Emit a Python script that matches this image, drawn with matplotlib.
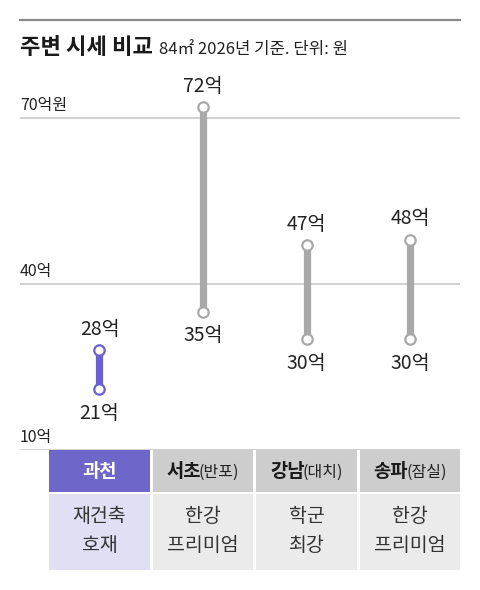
import matplotlib
matplotlib.use("Agg")
import matplotlib.pyplot as plt

plt.rcParams['font.family'] = ['Noto Sans CJK KR', 'DejaVu Sans']

# data
regions = ['과천', '서초', '강남', '송파']
sub_names = ['', '(반포)', '(대치)', '(잠실)']
low_vals = [21, 35, 30, 30]
high_vals = [28, 72, 47, 48]
notes = ['재건축\n호재', '한강\n프리미엄', '학군\n최강', '한강\n프리미엄']
grid_vals = [10, 40, 70]
grid_labels = ['10억', '40억', '70억원']

W, H = 480, 590
PURPLE = '#6a60cf'
GREY = '#a9a9a9'

def fx(x):
    return x / W

def fy(y):
    return 1 - y / H

fig = plt.figure(figsize=(W / 100, H / 100), dpi=100)

# top rule + title
fig.add_artist(plt.Line2D([fx(20), fx(460)], [fy(20), fy(20)], color='#8a8a8a', lw=1.6))
t = fig.text(fx(20), fy(54), '주변 시세 비교', fontsize=16, fontweight='bold',
             color='#1a1a1a', va='baseline', ha='left')
fig.canvas.draw()
r = fig.canvas.get_renderer()
bb = t.get_window_extent(r)
fig.text(fx(bb.x1 + 6), fy(54), '84㎡ 2026년 기준. 단위: 원', fontsize=12,
         color='#222222', va='baseline', ha='left')

# main chart axes
x0, x1 = 20, 460
y_bot, y_top = 450, 63
ax = fig.add_axes([fx(x0), fy(y_bot), (x1 - x0) / W, (y_bot - y_top) / H])
xs = list(range(len(regions)))
ax.set_xlim(-0.768, 3.483)
ax.set_ylim(10, 80)
ax.axis('off')

for v, lab in zip(grid_vals, grid_labels):
    ax.axhline(v, color='#d3d3d3', lw=1.5, zorder=1)
    ax.annotate(lab, xy=(0, v), xycoords=('axes fraction', 'data'),
                xytext=(0, 4), textcoords='offset pixels',
                ha='left', va='bottom', fontsize=11.5, color='#222222')

for i, (lo, hi) in enumerate(zip(low_vals, high_vals)):
    c = PURPLE if i == 0 else GREY
    ax.plot([xs[i], xs[i]], [lo, hi], color=c, lw=5.2, solid_capstyle='butt', zorder=3)
    ax.plot([xs[i], xs[i]], [lo, hi], ls='none', marker='o', ms=7.5,
            mfc='white', mec=c, mew=1.6, zorder=4)
    ax.annotate(f'{hi}억', xy=(xs[i], hi), xytext=(0, 21), textcoords='offset pixels',
                ha='center', va='center', fontsize=14, color='#222222')
    ax.annotate(f'{lo}억', xy=(xs[i], lo), xytext=(0, -24), textcoords='offset pixels',
                ha='center', va='center', fontsize=14, color='#222222')

# table below
tab = fig.add_axes([fx(x0), fy(570), (x1 - x0) / W, (570 - 450) / H])
tab.set_xlim(-0.768, 3.483)
tab.set_ylim(120, 0)
tab.axis('off')
cell_w = 0.97
for i in xs:
    head_c = '#6e66c9' if i == 0 else '#cdcdcd'
    body_c = '#e1dff4' if i == 0 else '#ebebeb'
    tab.bar(xs[i], 42, bottom=0, width=cell_w, color=head_c, zorder=1)
    tab.bar(xs[i], 76, bottom=44, width=cell_w, color=body_c, zorder=1)
    tab.text(xs[i], 81, notes[i], ha='center', va='center', fontsize=14,
             color='#333333', linespacing=1.55)

fig.canvas.draw()
r = fig.canvas.get_renderer()
for i in xs:
    tcol = 'white' if i == 0 else '#1a1a1a'
    bt = tab.text(xs[i], 27, regions[i], ha='center', va='baseline', fontsize=13.5,
                  fontweight='bold', color=tcol)
    if sub_names[i]:
        st = tab.annotate(sub_names[i], xy=(1, 0), xycoords=bt, xytext=(-2, 0),
                          textcoords='offset pixels', ha='left', va='bottom',
                          fontsize=11.5, color='#222222')
        fig.canvas.draw()
        sw = st.get_window_extent(r).width - 2
        bt.set_transform(bt.get_transform() + matplotlib.transforms.Affine2D().translate(-sw / 2, 0))

fig.savefig('out.png', dpi=100, facecolor='white')
